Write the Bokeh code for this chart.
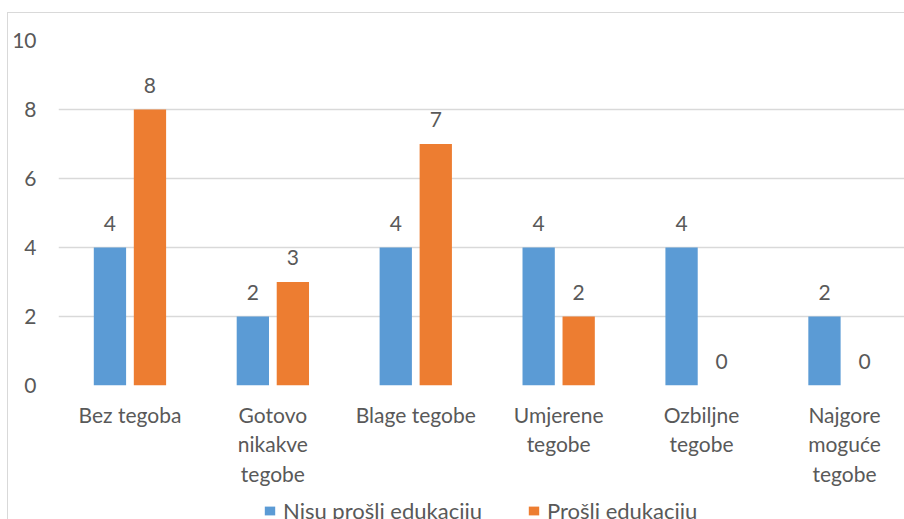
from bokeh.plotting import figure
from bokeh.layouts import column
from bokeh.models import (ColumnDataSource, Range1d, FixedTicker, LabelSet, Legend,
                          LegendItem, InlineStyleSheet)
from bokeh.core.properties import value
from bokeh.embed import file_html
from bokeh.resources import INLINE

categories = ["Bez tegoba", "Gotovo\nnikakve\ntegobe", "Blage tegobe", "Umjerene\ntegobe",
              "Ozbiljne\ntegobe", "Najgore\nmoguće\ntegobe"]
series_names = ["Nisu prošli edukaciju", "Prošli edukaciju"]
nisu = [4, 2, 4, 4, 4, 2]
prosli = [8, 3, 7, 2, 0, 0]
y_ticks = [0, 2, 4, 6, 8, 10]

BLUE = "#5B9BD5"
ORANGE = "#ED7D31"
TEXT = "#595959"
GRID = "#D9D9D9"
FONT = "Lato"
FS = "21px"
FS_LEG = "22px"

offset = 0.14
bar_w = 0.226
centers = [i + 0.5 for i in range(len(categories))]

src_a = ColumnDataSource(dict(x=[c - offset for c in centers], y=nisu, t=[str(v) for v in nisu]))
src_b = ColumnDataSource(dict(x=[c + offset for c in centers], y=prosli, t=[str(v) for v in prosli]))

p = figure(width=904, height=495, output_backend="svg", toolbar_location=None,
           x_range=Range1d(0, 5.92), y_range=Range1d(0, 10),
           min_border_left=58, min_border_right=0, min_border_top=40, min_border_bottom=110)
p.outline_line_color = None
p.background_fill_color = "white"
p.border_fill_color = "white"

ra = p.vbar(x="x", top="y", width=bar_w, source=src_a, fill_color=BLUE, line_color=None)
rb = p.vbar(x="x", top="y", width=bar_w, source=src_b, fill_color=ORANGE, line_color=None)

for src in (src_a, src_b):
    p.add_layout(LabelSet(x="x", y="y", text="t", source=src, text_align="center",
                          text_baseline="alphabetic", y_offset=17, text_color=TEXT,
                          text_font=value(FONT), text_font_size=value(FS)))

# axes
p.xgrid.visible = False
p.ygrid.grid_line_color = GRID
p.ygrid.grid_line_width = 1.3
p.yaxis.ticker = FixedTicker(ticks=y_ticks)
p.xaxis.ticker = FixedTicker(ticks=centers)
p.xaxis.major_label_overrides = {c: lab for c, lab in zip(centers, categories)}
for ax in (p.xaxis, p.yaxis):
    ax.axis_line_color = None
    ax.major_tick_line_color = None
    ax.minor_tick_line_color = None
    ax.major_label_text_color = TEXT
    ax.major_label_text_font = FONT
    ax.major_label_text_font_size = FS
p.yaxis.major_tick_out = 0
p.yaxis.major_tick_in = 0
p.yaxis.major_label_standoff = 22
p.xaxis.major_label_standoff = 10
p.xaxis.major_label_text_line_height = 1.19

# legend strip (cut off at the bottom edge, as in the reference)
leg = figure(width=904, height=24, output_backend="svg", toolbar_location=None,
             x_axis_type=None, y_axis_type=None, x_range=Range1d(0, 1), y_range=Range1d(0, 1),
             min_border=0)
leg.outline_line_color = None
leg.grid.visible = False
# hidden copies of the series renderers, only used for the legend swatches
la = leg.vbar(x="x", top="y", width=bar_w, source=src_a, fill_color=BLUE, line_color=None,
              visible=False)
lb = leg.vbar(x="x", top="y", width=bar_w, source=src_b, fill_color=ORANGE, line_color=None,
              visible=False)
lg = Legend(items=[LegendItem(label=series_names[0], renderers=[la]),
                   LegendItem(label=series_names[1], renderers=[lb])],
            location=(205, -5), orientation="horizontal", padding=0, margin=0, spacing=45,
            border_line_color=None, background_fill_alpha=0, glyph_width=13, glyph_height=11,
            label_standoff=7, label_text_font=FONT, label_text_font_size=FS_LEG,
            label_text_color=TEXT, inactive_fill_alpha=0)
leg.add_layout(lg, "center")

# chart-area border (left and top edges visible in the crop)
p.stylesheets = [InlineStyleSheet(css="""
:host::after { content: ""; position: absolute; left: 7px; top: 12px; right: 0; bottom: 0;
  border-left: 1px solid #D9D9D9; border-top: 1px solid #D9D9D9; pointer-events: none; }
""")]
leg.stylesheets = [InlineStyleSheet(css="""
:host::after { content: ""; position: absolute; left: 7px; top: 0; bottom: 0; width: 0;
  border-left: 1px solid #D9D9D9; pointer-events: none; }
""")]

layout = column(p, leg, spacing=0)
open("out.html", "w").write(file_html(layout, INLINE))
